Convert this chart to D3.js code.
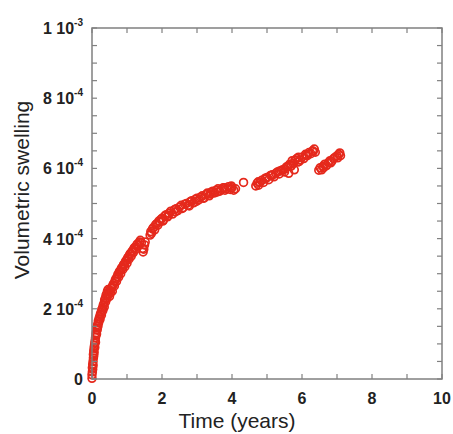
<!DOCTYPE html>
<html><head><meta charset="utf-8">
<script src="https://cdn.jsdelivr.net/npm/d3@7"></script>
<style>body{margin:0;background:#fff}svg{display:block}</style>
</head><body>
<script>
// time in years
const timeYears = [0.00,0.00,0.01,0.01,0.02,0.02,0.03,0.03,0.04,0.04,0.05,0.05,0.06,0.06,0.07,0.08,0.08,0.09,0.10,0.10,0.11,0.12,0.13,0.14,0.15,0.16,0.17,0.18,0.19,0.20,0.22,0.23,0.24,0.26,0.27,0.28,0.30,0.31,0.32,0.34,0.35,0.36,0.38,0.39,0.40,0.42,0.43,0.44,0.46,0.47,0.48,0.50,0.51,0.53,0.55,0.57,0.58,0.60,0.62,0.64,0.66,0.68,0.70,0.72,0.74,0.76,0.78,0.80,0.82,0.84,0.86,0.88,0.90,0.92,0.94,0.96,0.98,1.00,1.02,1.04,1.06,1.08,1.10,1.12,1.14,1.16,1.18,1.20,1.22,1.25,1.28,1.30,1.33,1.36,1.38,1.41,1.44,1.46,1.48,1.50,1.52,
1.66,1.68,1.70,1.73,1.76,1.79,1.82,1.85,1.88,1.91,1.94,1.97,2.00,2.04,2.08,2.12,2.16,2.20,2.25,2.30,2.35,2.40,2.45,2.50,2.55,2.60,2.65,2.70,2.75,2.80,2.85,2.90,2.95,3.00,3.05,3.10,3.15,3.20,3.25,3.30,3.35,3.40,3.45,3.50,3.55,3.60,3.65,3.70,3.75,3.80,3.85,3.90,3.95,4.00,4.05,4.10,
4.33,
4.68,4.72,4.76,4.80,4.85,4.90,4.95,5.00,5.05,5.10,5.15,5.20,5.25,5.30,5.35,5.40,5.45,5.50,5.55,5.60,5.62,5.65,5.70,5.72,5.75,5.78,5.80,5.85,5.88,5.90,5.95,6.00,6.05,6.10,6.15,6.20,6.25,6.30,6.35,6.38,
6.48,6.52,6.56,6.60,6.65,6.70,6.75,6.80,6.85,6.90,6.95,7.00,7.05,7.08,7.10,
2.02,2.18,2.38,2.58,2.78,2.98,3.18,3.38,3.58,3.78,3.98,4.75,4.95,5.15,5.35,5.52,5.68,5.92,6.12,6.32,6.62,6.82,7.02];
// volumetric swelling, in units of 1e-4
const swellingE4 = [0.02,0.12,0.20,0.32,0.28,0.42,0.50,0.38,0.60,0.70,0.66,0.80,0.88,0.75,0.95,1.02,0.90,1.10,1.18,1.05,1.25,1.32,1.28,1.45,1.40,1.55,1.50,1.65,1.60,1.72,1.78,1.70,1.85,1.90,1.82,1.98,2.02,1.95,2.10,2.15,2.05,2.25,2.30,2.20,2.38,2.42,2.30,2.50,2.55,2.40,2.48,2.35,2.50,2.45,2.58,2.62,2.50,2.68,2.72,2.65,2.80,2.85,2.78,2.92,2.98,2.90,3.05,3.08,3.00,3.15,3.18,3.12,3.25,3.28,3.20,3.35,3.38,3.30,3.45,3.48,3.42,3.55,3.58,3.50,3.62,3.66,3.60,3.72,3.75,3.70,3.82,3.85,3.80,3.90,3.95,3.88,3.72,3.62,3.70,3.82,3.90,
4.10,4.20,4.15,4.28,4.32,4.25,4.40,4.42,4.38,4.50,4.48,4.55,4.58,4.52,4.65,4.68,4.62,4.72,4.78,4.70,4.82,4.85,4.80,4.90,4.95,4.88,4.98,5.00,4.95,5.05,5.08,5.02,5.12,5.15,5.10,5.18,5.22,5.15,5.25,5.30,5.22,5.32,5.35,5.30,5.38,5.42,5.35,5.40,5.45,5.38,5.42,5.48,5.40,5.45,5.38,5.42,
5.60,
5.50,5.58,5.52,5.60,5.66,5.60,5.70,5.74,5.68,5.80,5.82,5.76,5.86,5.90,5.84,5.94,5.96,5.90,6.04,6.06,5.86,6.12,6.08,6.22,6.14,5.96,6.24,6.28,6.18,6.32,6.24,6.32,6.28,6.40,6.36,6.45,6.42,6.50,6.55,6.46,
5.95,6.02,5.96,6.06,6.12,6.08,6.16,6.22,6.20,6.28,6.32,6.36,6.40,6.44,6.36,
4.50,4.66,4.76,4.86,4.93,5.06,5.16,5.27,5.33,5.45,5.50,5.62,5.72,5.80,5.92,5.98,6.06,6.20,6.38,6.48,6.02,6.16,6.30];
const xTicks = [0,2,4,6,8,10];
const yTickValues = [0,2,4,6,8,10];
const yTickMantissa = ["0","2","4","6","8","1"];
const yTickExponent = [null,"-4","-4","-4","-4","-3"];

const W=453,H=434;
const m={left:92,right:11,top:28,bottom:55};
const svg=d3.select("body").append("svg").attr("width",W).attr("height",H);
const x=d3.scaleLinear().domain([0,10]).range([m.left,W-m.right]);
const y=d3.scaleLinear().domain([0,10]).range([H-m.bottom,m.top]);
const axisCol="#808080";
const fontFam="'Liberation Sans', Arial, sans-serif";

// data
svg.append("g").selectAll("circle").data(timeYears).join("circle")
  .attr("cx",(d)=>x(d)).attr("cy",(d,i)=>y(swellingE4[i])).attr("r",3.9)
  .attr("fill","none").attr("stroke","#e5291c").attr("stroke-width",1.7);

// ticks (inward) on all sides
const tl=5;
const xMinor=d3.range(0,11,1), yMinor=d3.range(0,10.01,0.5);
const g=svg.append("g").attr("stroke",axisCol).attr("stroke-width",1.2);
xMinor.forEach(t=>{
  g.append("line").attr("x1",x(t)).attr("x2",x(t)).attr("y1",y(0)).attr("y2",y(0)-tl);
  g.append("line").attr("x1",x(t)).attr("x2",x(t)).attr("y1",y(10)).attr("y2",y(10)+tl);
});
yMinor.forEach(t=>{
  g.append("line").attr("y1",y(t)).attr("y2",y(t)).attr("x1",x(0)).attr("x2",x(0)+tl);
  g.append("line").attr("y1",y(t)).attr("y2",y(t)).attr("x1",x(10)).attr("x2",x(10)-tl);
});
svg.append("rect").attr("x",x(0)).attr("y",y(10)).attr("width",x(10)-x(0)).attr("height",y(0)-y(10))
  .attr("fill","none").attr("stroke",axisCol).attr("stroke-width",1.5);

// x tick labels
svg.append("g").selectAll("text").data(xTicks).join("text")
  .attr("x",d=>x(d)).attr("y",y(0)+25).attr("text-anchor","middle")
  .attr("font-family",fontFam).attr("font-size",16).attr("font-weight","bold").attr("fill","#222")
  .text(d=>d);

// y tick labels
const yl=svg.append("g");
yTickValues.forEach((v,i)=>{
  const t=yl.append("text").attr("y",y(v)+6).attr("font-family",fontFam).attr("font-size",16)
    .attr("font-weight","bold").attr("fill","#222");
  if(yTickExponent[i]){
    t.attr("x",83).attr("text-anchor","end");
    t.append("tspan").text(yTickMantissa[i]+" 10");
    t.append("tspan").attr("dy",-8).attr("font-size",10).text(yTickExponent[i]);
  } else {
    t.attr("x",83).attr("text-anchor","end").text(yTickMantissa[i]);
  }
});

// axis titles
svg.append("text").attr("transform","translate(29,190) rotate(-90)").attr("text-anchor","middle")
  .attr("font-family",fontFam).attr("font-size",21).attr("fill","#222").text("Volumetric swelling");
svg.append("text").attr("x",237).attr("y",428).attr("text-anchor","middle")
  .attr("font-family",fontFam).attr("font-size",21).attr("fill","#222").text("Time (years)");
</script>
</body></html>
